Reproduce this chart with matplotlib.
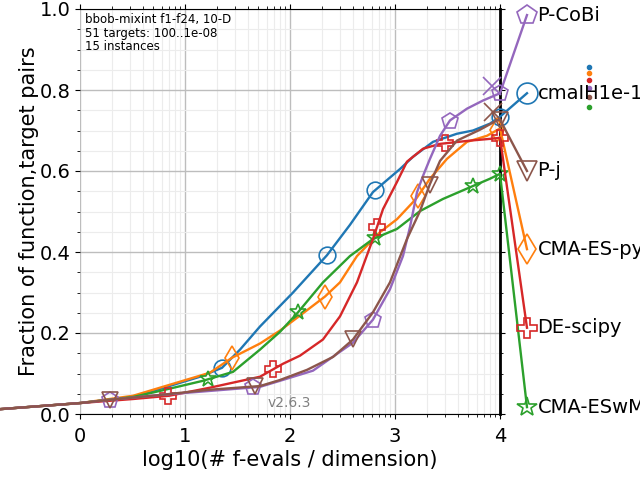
import matplotlib
matplotlib.use("Agg")
import matplotlib.pyplot as plt
import numpy as np
from matplotlib.ticker import FixedLocator, FormatStrFormatter

# ECDF curves, x = log10(#f-evals / dimension), y = fraction of (function, target) pairs
cma_ih_x = [-0.76, 0.0, 0.505, 0.762, 1.143, 1.352, 1.524, 1.714, 2.029, 2.352, 2.571, 2.79, 3.048, 3.171, 3.362, 3.59, 3.743, 3.905, 4.0]
cma_ih_y = [0.012, 0.027, 0.042, 0.062, 0.092, 0.114, 0.159, 0.216, 0.300, 0.392, 0.467, 0.548, 0.605, 0.635, 0.672, 0.692, 0.700, 0.717, 0.734]

cma_py_x = [-0.76, 0.0, 0.505, 0.762, 1.238, 1.448, 1.714, 1.905, 2.095, 2.333, 2.476, 2.638, 2.857, 3.019, 3.2, 3.333, 3.495, 3.686, 3.876, 4.0]
cma_py_y = [0.012, 0.027, 0.045, 0.065, 0.102, 0.139, 0.174, 0.206, 0.243, 0.290, 0.325, 0.390, 0.449, 0.481, 0.531, 0.581, 0.630, 0.672, 0.687, 0.705]

cma_wm_x = [-0.76, 0.0, 0.505, 0.762, 1.171, 1.457, 1.714, 1.905, 2.076, 2.314, 2.571, 2.79, 3.019, 3.238, 3.457, 3.743, 3.905, 4.0]
cma_wm_y = [0.012, 0.027, 0.042, 0.057, 0.082, 0.104, 0.159, 0.203, 0.251, 0.325, 0.390, 0.432, 0.457, 0.501, 0.531, 0.563, 0.581, 0.593]

de_x = [-0.76, 0.0, 0.505, 0.848, 1.238, 1.714, 1.933, 2.095, 2.314, 2.476, 2.638, 2.79, 2.886, 3.019, 3.114, 3.267, 3.429, 3.714, 3.933, 4.0]
de_y = [0.012, 0.027, 0.037, 0.045, 0.065, 0.092, 0.124, 0.144, 0.184, 0.241, 0.325, 0.432, 0.506, 0.573, 0.623, 0.655, 0.667, 0.675, 0.680, 0.682]

pcobi_x = [-0.76, 0.0, 0.286, 0.762, 1.238, 1.714, 1.905, 2.219, 2.6, 2.79, 2.952, 3.076, 3.143, 3.21, 3.267, 3.333, 3.429, 3.524, 3.686, 3.838, 4.0]
pcobi_y = [0.012, 0.027, 0.035, 0.047, 0.057, 0.067, 0.082, 0.107, 0.176, 0.233, 0.308, 0.390, 0.462, 0.548, 0.588, 0.630, 0.687, 0.725, 0.754, 0.774, 0.792]

pj_x = [-0.76, 0.0, 0.286, 0.762, 1.238, 1.714, 1.905, 2.162, 2.41, 2.6, 2.79, 2.952, 3.114, 3.238, 3.333, 3.429, 3.59, 3.81, 3.971, 4.0]
pj_y = [0.012, 0.027, 0.035, 0.047, 0.060, 0.069, 0.084, 0.109, 0.141, 0.184, 0.251, 0.325, 0.432, 0.501, 0.568, 0.625, 0.675, 0.702, 0.725, 0.727]

names = ["cmaIH1e-1", "CMA-ES-py", "CMA-ESwM", "DE-scipy", "P-CoBi", "P-j"]
xs = [cma_ih_x, cma_py_x, cma_wm_x, de_x, pcobi_x, pj_x]
ys = [cma_ih_y, cma_py_y, cma_wm_y, de_y, pcobi_y, pj_y]
colors = ["#1f77b4", "#ff7f0e", "#2ca02c", "#d62728", "#9467bd", "#8c564b"]
markers = ["o", "d", "*", "P", "p", "v"]
marker_x = [
    [1.35, 2.35, 2.81, 4.0],
    [1.45, 2.33, 3.22, 3.97],
    [1.22, 2.08, 2.81, 3.74, 4.0],
    [0.84, 1.84, 2.83, 3.48, 4.0],
    [0.29, 1.65, 2.79, 3.52, 4.0],
    [0.29, 1.67, 2.6, 3.33, 4.0],
]
label_y = [0.792, 0.407, 0.017, 0.213, 0.985, 0.600]
dot_y = [0.856, 0.841, 0.759, 0.824, 0.806, 0.782]
cross_pts = {"P-CoBi": (3.92, 0.81), "P-j": (3.93, 0.745)}

label_x = 4.257

fig = plt.figure(figsize=(6.4, 4.8), dpi=100)
ax = fig.add_axes([80 / 640, 66 / 480, 420 / 640, 405 / 480])

for name, x, y, c, m, mx, ly, dy in zip(names, xs, ys, colors, markers, marker_x, label_y, dot_y):
    xx = list(x) + [label_x]
    yy = list(y) + [ly]
    ax.plot(xx, yy, color=c, lw=1.7, clip_on=False, zorder=3)
    ax.plot(mx, np.interp(mx, x, y), ls="none", marker=m, ms=12, mfc="none",
            mec=c, mew=1.2, clip_on=False, zorder=3)
    ax.plot([label_x], [ly], marker=m, ms=15, mfc="none", mec=c, mew=1.2,
            clip_on=False, zorder=3)
    ax.text(label_x + 0.1, ly, name, fontsize=14, va="center", ha="left", zorder=5)
    ax.plot([4.85], [dy], marker="o", ms=3, color=c, clip_on=False, zorder=1)
    if name in cross_pts:
        cx, cy = cross_pts[name]
        ax.plot([cx], [cy], marker="x", ms=13, mew=1.2, color=c, clip_on=False, zorder=3)

ax.set_xlim(0, 4)
ax.set_ylim(0, 1.0)

# log-spaced minor ticks on the x axis
minor = [d + np.log10(k) for d in range(4) for k in range(2, 10)]
ax.xaxis.set_major_locator(FixedLocator([0, 1, 2, 3, 4]))
ax.xaxis.set_minor_locator(FixedLocator(minor))
ax.yaxis.set_major_locator(FixedLocator([0.0, 0.2, 0.4, 0.6, 0.8, 1.0]))
ax.yaxis.set_minor_locator(FixedLocator(np.arange(0, 1.001, 0.05)))
ax.xaxis.set_major_formatter(FormatStrFormatter("%d"))
ax.yaxis.set_major_formatter(FormatStrFormatter("%.1f"))

ax.grid(which="major", color="#bdbdbd", lw=1.0)
ax.grid(which="minor", color="#ececec", lw=0.8)
ax.set_axisbelow(True)

ax.tick_params(axis="both", which="both", labelsize=14, top=True, right=True)
ax.tick_params(axis="x", which="major", pad=6)
ax.spines["left"].set_visible(False)
ax.spines["right"].set_linewidth(2.0)
ax.spines["top"].set_linewidth(0.8)

ax.set_xlabel("log10(# f-evals / dimension)", fontsize=15, labelpad=3)
ax.set_ylabel("Fraction of function,target pairs", fontsize=15, labelpad=0)

ax.text(0.012, 0.99, "bbob-mixint f1-f24, 10-D\n51 targets: 100..1e-08\n15 instances",
        transform=ax.transAxes, fontsize=8.5, va="top", ha="left", linespacing=1.05)
ax.text(1.79, 0.027, "v2.6.3", fontsize=10, color="gray", va="center", ha="left")

fig.savefig("out.png", dpi=100)
